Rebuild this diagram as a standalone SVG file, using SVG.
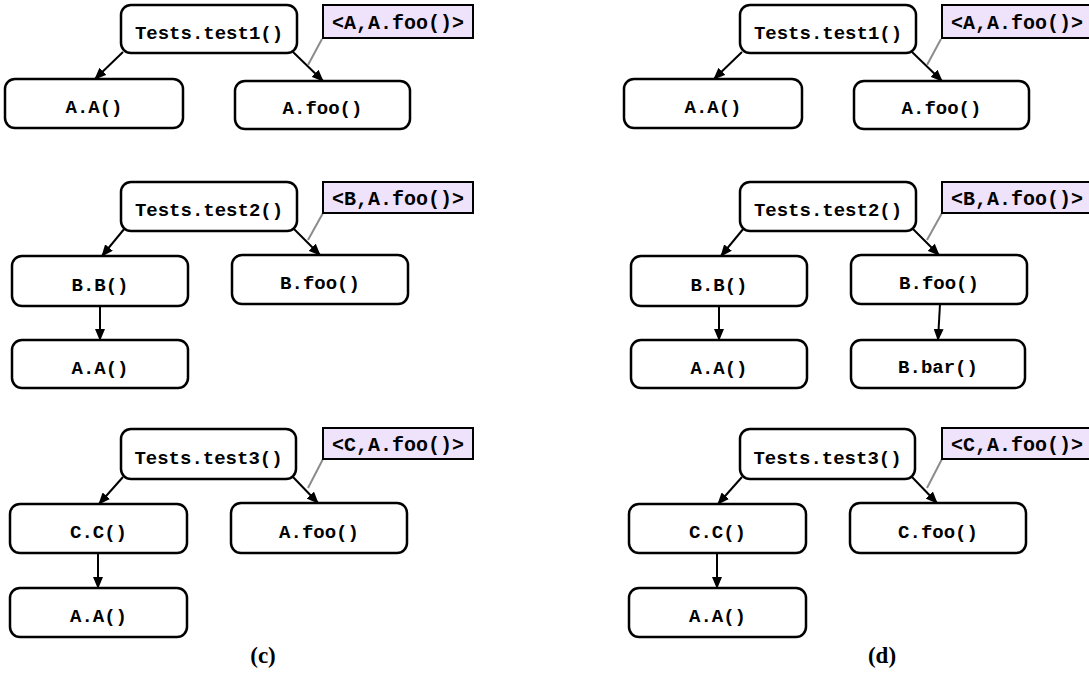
<svg xmlns="http://www.w3.org/2000/svg" width="1089" height="674" viewBox="0 0 1089 674">
<style>
.n{fill:#fff;stroke:#000;stroke-width:2.5}
.l{fill:#efe2fb;stroke:#000;stroke-width:2}
.t{font-family:"Liberation Mono",monospace;font-weight:bold;font-size:19px;text-anchor:middle;fill:#000}
.lt{font-size:20px}
.e{stroke:#000;stroke-width:2;fill:none;marker-end:url(#ah)}
.g{stroke:#8c8c8c;stroke-width:2;fill:none}
.cap{font-family:"Liberation Serif",serif;font-weight:bold;font-size:23px;text-anchor:middle}
</style>
<defs>
<marker id="ah" markerUnits="userSpaceOnUse" markerWidth="12" markerHeight="10" refX="11" refY="5" orient="auto">
<path d="M0,0 L12,5 L0,10 z" fill="#000"/>
</marker>
</defs>
<g id="connectors">
<line class="e" x1="123" y1="52" x2="95" y2="79"/>
<line class="e" x1="293" y1="52" x2="323" y2="81"/>
<line class="e" x1="125" y1="228" x2="102" y2="256"/>
<line class="e" x1="293" y1="228" x2="320" y2="255"/>
<line class="e" x1="100" y1="306" x2="100" y2="340"/>
<line class="e" x1="123" y1="477" x2="99" y2="504"/>
<line class="e" x1="293" y1="477" x2="318" y2="503"/>
<line class="e" x1="98" y1="553" x2="98" y2="588"/>
<line class="g" x1="322" y1="39" x2="308" y2="65"/>
<line class="g" x1="323" y1="213" x2="308" y2="240"/>
<line class="g" x1="323" y1="459" x2="308" y2="488"/>
<line class="e" x1="742" y1="52" x2="714" y2="79"/>
<line class="e" x1="912" y1="52" x2="942" y2="81"/>
<line class="e" x1="744" y1="228" x2="721" y2="256"/>
<line class="e" x1="912" y1="228" x2="939" y2="255"/>
<line class="e" x1="719" y1="306" x2="719" y2="340"/>
<line class="e" x1="940" y1="304" x2="938" y2="340"/>
<line class="e" x1="742" y1="477" x2="718" y2="504"/>
<line class="e" x1="912" y1="477" x2="937" y2="503"/>
<line class="e" x1="717" y1="553" x2="717" y2="588"/>
<line class="g" x1="941" y1="39" x2="927" y2="65"/>
<line class="g" x1="942" y1="213" x2="927" y2="240"/>
<line class="g" x1="942" y1="459" x2="927" y2="488"/>
</g>
<g id="c-test1"><rect class="n" x="121" y="5" width="176" height="48" rx="10"/><text class="t" x="209" y="38.5">Tests.test1()</text></g>
<g id="c-AA1"><rect class="n" x="5" y="79" width="178" height="49" rx="10"/><text class="t" x="94" y="113">A.A()</text></g>
<g id="c-Afoo1"><rect class="n" x="235" y="81" width="175" height="48" rx="10"/><text class="t" x="322.5" y="114">A.foo()</text></g>
<g id="c-lab1"><rect class="l" x="323" y="5" width="150" height="33"/><text class="t lt" x="398" y="29">&lt;A,A.foo()&gt;</text></g>
<g id="c-test2"><rect class="n" x="121" y="182" width="176" height="49" rx="10"/><text class="t" x="209" y="216">Tests.test2()</text></g>
<g id="c-BB"><rect class="n" x="12" y="256" width="176" height="50" rx="10"/><text class="t" x="100" y="290.5">B.B()</text></g>
<g id="c-Bfoo"><rect class="n" x="232" y="255" width="176" height="49" rx="10"/><text class="t" x="320" y="289">B.foo()</text></g>
<g id="c-AA2"><rect class="n" x="12" y="340" width="176" height="48" rx="10"/><text class="t" x="100" y="373.5">A.A()</text></g>
<g id="c-lab2"><rect class="l" x="323" y="182" width="150" height="31"/><text class="t lt" x="398" y="205">&lt;B,A.foo()&gt;</text></g>
<g id="c-test3"><rect class="n" x="121" y="429" width="175" height="50" rx="10"/><text class="t" x="208.5" y="463.5">Tests.test3()</text></g>
<g id="c-CC"><rect class="n" x="10" y="504" width="177" height="49" rx="10"/><text class="t" x="98.5" y="538">C.C()</text></g>
<g id="c-Afoo3"><rect class="n" x="231" y="503" width="176" height="50" rx="10"/><text class="t" x="319" y="537.5">A.foo()</text></g>
<g id="c-AA3"><rect class="n" x="10" y="588" width="177" height="49" rx="10"/><text class="t" x="98.5" y="622">A.A()</text></g>
<g id="c-lab3"><rect class="l" x="323" y="428" width="150" height="31"/><text class="t lt" x="398" y="451">&lt;C,A.foo()&gt;</text></g>
<g id="d-test1"><rect class="n" x="740" y="5" width="176" height="48" rx="10"/><text class="t" x="828" y="38.5">Tests.test1()</text></g>
<g id="d-AA1"><rect class="n" x="624" y="79" width="178" height="49" rx="10"/><text class="t" x="713" y="113">A.A()</text></g>
<g id="d-Afoo1"><rect class="n" x="854" y="81" width="175" height="48" rx="10"/><text class="t" x="941.5" y="114">A.foo()</text></g>
<g id="d-lab1"><rect class="l" x="942" y="5" width="150" height="33"/><text class="t lt" x="1017" y="29">&lt;A,A.foo()&gt;</text></g>
<g id="d-test2"><rect class="n" x="740" y="182" width="176" height="49" rx="10"/><text class="t" x="828" y="216">Tests.test2()</text></g>
<g id="d-BB"><rect class="n" x="631" y="256" width="176" height="50" rx="10"/><text class="t" x="719" y="290.5">B.B()</text></g>
<g id="d-Bfoo"><rect class="n" x="851" y="255" width="176" height="49" rx="10"/><text class="t" x="939" y="289">B.foo()</text></g>
<g id="d-AA2"><rect class="n" x="631" y="340" width="176" height="48" rx="10"/><text class="t" x="719" y="373.5">A.A()</text></g>
<g id="d-Bbar"><rect class="n" x="851" y="340" width="174" height="48" rx="10"/><text class="t" x="938" y="373">B.bar()</text></g>
<g id="d-lab2"><rect class="l" x="942" y="182" width="150" height="31"/><text class="t lt" x="1017" y="205">&lt;B,A.foo()&gt;</text></g>
<g id="d-test3"><rect class="n" x="740" y="429" width="175" height="50" rx="10"/><text class="t" x="827.5" y="463.5">Tests.test3()</text></g>
<g id="d-CC"><rect class="n" x="629" y="504" width="177" height="49" rx="10"/><text class="t" x="717.5" y="538">C.C()</text></g>
<g id="d-Cfoo"><rect class="n" x="850" y="503" width="176" height="50" rx="10"/><text class="t" x="938" y="537.5">C.foo()</text></g>
<g id="d-AA3"><rect class="n" x="629" y="588" width="177" height="49" rx="10"/><text class="t" x="717.5" y="622">A.A()</text></g>
<g id="d-lab3"><rect class="l" x="942" y="428" width="150" height="31"/><text class="t lt" x="1017" y="451">&lt;C,A.foo()&gt;</text></g>
<text class="cap" x="263" y="663">(c)</text>
<text class="cap" x="882" y="663">(d)</text>
</svg>
